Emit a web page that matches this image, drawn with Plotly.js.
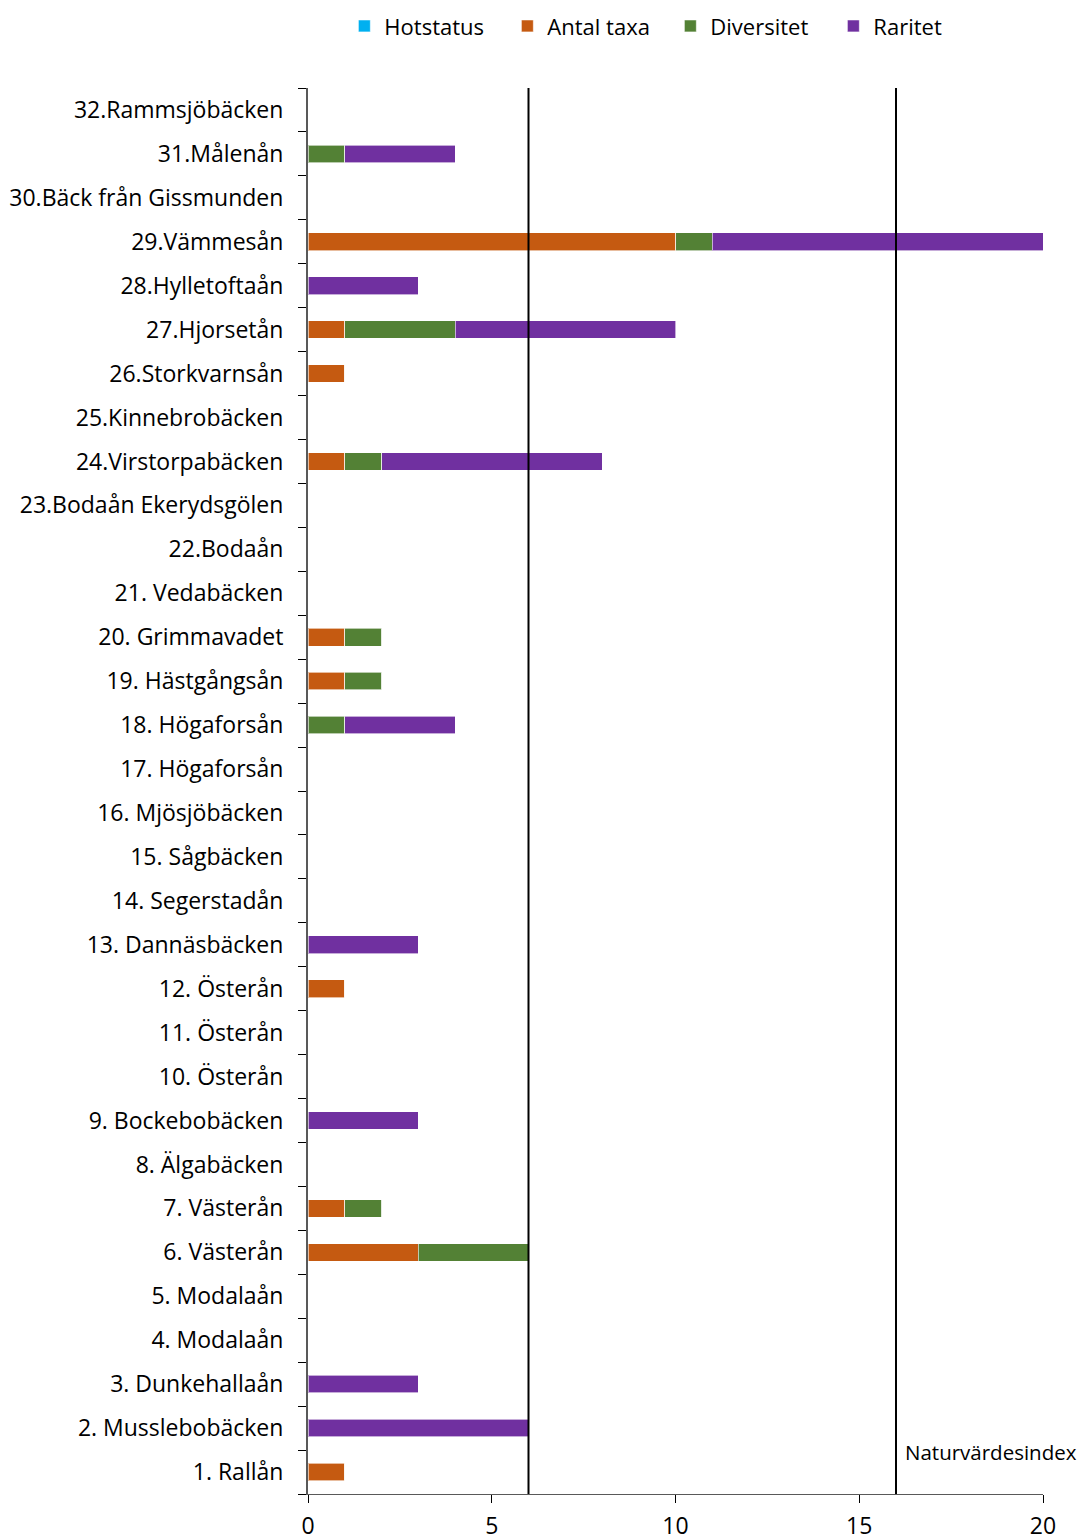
<!DOCTYPE html>
<html>
<head>
<meta charset="utf-8">
<script src="https://cdn.plot.ly/plotly-3.0.1.min.js"></script>
<style>html,body{margin:0;padding:0;background:#fff;}#chart{width:1081px;height:1537px;}</style>
</head>
<body>
<div id="chart"></div>
<script>
const categories = [
  "1. Rallån", "2. Musslebobäcken", "3. Dunkehallaån", "4. Modalaån", "5. Modalaån",
  "6. Västerån", "7. Västerån", "8. Älgabäcken", "9. Bockebobäcken", "10. Österån",
  "11. Österån", "12. Österån", "13. Dannäsbäcken", "14. Segerstadån", "15. Sågbäcken",
  "16. Mjösjöbäcken", "17. Högaforsån", "18. Högaforsån", "19. Hästgångsån", "20. Grimmavadet",
  "21. Vedabäcken", "22.Bodaån", "23.Bodaån Ekerydsgölen", "24.Virstorpabäcken", "25.Kinnebrobäcken",
  "26.Storkvarnsån", "27.Hjorsetån", "28.Hylletoftaån", "29.Vämmesån", "30.Bäck från Gissmunden",
  "31.Målenån", "32.Rammsjöbäcken"
];
const hotstatus = [0,0,0,0,0, 0,0,0,0,0, 0,0,0,0,0, 0,0,0,0,0, 0,0,0,0,0, 0,0,0,0,0, 0,0];
const antalTaxa = [1,0,0,0,0, 3,1,0,0,0, 0,1,0,0,0, 0,0,0,1,1, 0,0,0,1,0, 1,1,0,10,0, 0,0];
const diversitet = [0,0,0,0,0, 3,1,0,0,0, 0,0,0,0,0, 0,0,1,1,1, 0,0,0,1,0, 0,3,0,1,0, 1,0];
const raritet = [0,6,3,0,0, 0,0,0,3,0, 0,0,3,0,0, 0,0,3,0,0, 0,0,0,6,0, 0,6,3,9,0, 3,0];
const seriesNames = ["Hotstatus", "Antal taxa", "Diversitet", "Raritet"];
const seriesColors = ["#00B0F0", "#C55A11", "#538135", "#7030A0"];
const thresholds = [6, 16];
const xTicks = [0, 5, 10, 15, 20];

const font = "Open Sans, Lato, sans-serif";
const seriesData = [hotstatus, antalTaxa, diversitet, raritet];
const traces = seriesData.map((vals, i) => ({
  type: "bar",
  orientation: "h",
  name: seriesNames[i],
  y: categories,
  x: vals,
  marker: {color: seriesColors[i], line: {color: "rgba(255,255,255,0.6)", width: 1}},
  hoverinfo: "x+y+name"
}));

const shapes = thresholds.map(t => ({
  type: "line", xref: "x", yref: "paper", x0: t, x1: t, y0: 0, y1: 1,
  line: {color: "#000", width: 2}
}));

const layout = {
  width: 1081, height: 1537,
  margin: {l: 308, r: 38, t: 88, b: 43, autoexpand: false},
  paper_bgcolor: "#fff", plot_bgcolor: "#fff",
  barmode: "stack",
  bargap: 0.6,
  font: {family: font, size: 23, color: "#000"},
  showlegend: true,
  legend: {orientation: "h", x: 0.493, xanchor: "center", y: 1.044, yanchor: "middle", yref: "paper",
           traceorder: "normal", font: {family: font, size: 22, color: "#000"},
           itemwidth: 30, entrywidth: 118, entrywidthmode: "pixels"},
  xaxis: {
    range: [0, 20], tickvals: xTicks, ticktext: xTicks.map(String),
    showgrid: false, zeroline: false, showline: true, linecolor: "#595959", linewidth: 1,
    ticks: "outside", ticklen: 8, tickcolor: "#000", tickfont: {family: font, size: 23, color: "#000"},
    ticklabelstandoff: 3,
    fixedrange: true
  },
  yaxis: {
    type: "category", categoryorder: "array", categoryarray: categories,
    tickson: "boundaries", ticks: "outside", ticklen: 8, tickcolor: "#000",
    showgrid: false, zeroline: false, showline: true, linecolor: "#595959", linewidth: 2,
    tickfont: {family: font, size: 23, color: "#000"}, ticklabelstandoff: 18,
    fixedrange: true
  },
  shapes: shapes,
  annotations: [{
    text: "Naturvärdesindex", xref: "x", yref: "paper", x: 16, y: 0.03,
    xanchor: "left", yanchor: "middle", xshift: 7, showarrow: false,
    font: {family: font, size: 20.5, color: "#000"}
  }]
};

Plotly.newPlot("chart", traces, layout, {displayModeBar: false});
</script>
</body>
</html>
